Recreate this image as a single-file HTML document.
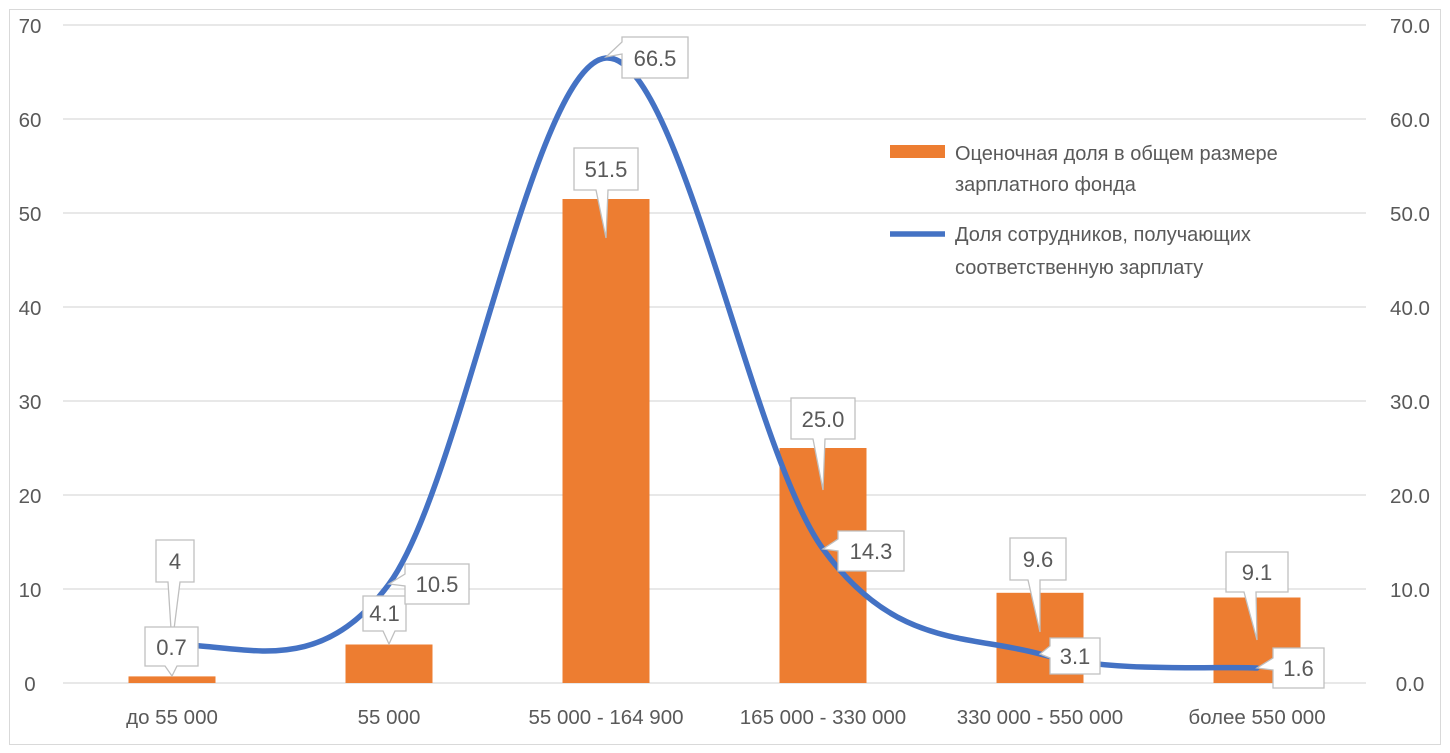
<!DOCTYPE html>
<html><head><meta charset="utf-8"><style>
html,body{margin:0;padding:0;background:#fff}
svg{display:block}
text{font-family:"Liberation Sans",sans-serif;fill:#595959}
</style></head><body>
<svg id="s" width="1450" height="753" viewBox="0 0 1450 753">
<rect x="9.5" y="9.5" width="1431" height="735" fill="#fff" stroke="#d9d9d9"/>
<g stroke="#d9d9d9" stroke-width="1.3">
<line x1="63" x2="1366" y1="683" y2="683"/><line x1="63" x2="1366" y1="589" y2="589"/>
<line x1="63" x2="1366" y1="495" y2="495"/><line x1="63" x2="1366" y1="401" y2="401"/>
<line x1="63" x2="1366" y1="307" y2="307"/><line x1="63" x2="1366" y1="213" y2="213"/>
<line x1="63" x2="1366" y1="119" y2="119"/><line x1="63" x2="1366" y1="25" y2="25"/>
</g>
<g font-size="20.5" text-anchor="middle">
<text x="30" y="691">0</text><text x="30" y="597">10</text><text x="30" y="503">20</text><text x="30" y="409">30</text><text x="30" y="315">40</text><text x="30" y="221">50</text><text x="30" y="127">60</text><text x="30" y="33">70</text>
<text x="1410" y="691">0.0</text><text x="1410" y="597">10.0</text><text x="1410" y="503">20.0</text><text x="1410" y="409">30.0</text><text x="1410" y="315">40.0</text><text x="1410" y="221">50.0</text><text x="1410" y="127">60.0</text><text x="1410" y="33">70.0</text>
<text x="172" y="724">до 55 000</text><text x="389" y="724">55 000</text><text x="606" y="724">55 000 - 164 900</text><text x="823" y="724">165 000 - 330 000</text><text x="1040" y="724">330 000 - 550 000</text><text x="1257" y="724">более 550 000</text>
</g>
<g fill="#ed7d31">
<rect x="128.5" y="676.4" width="87" height="6.6"/><rect x="345.5" y="644.5" width="87" height="38.5"/>
<rect x="562.5" y="199" width="87" height="484"/><rect x="779.5" y="448" width="87" height="235"/>
<rect x="996.5" y="592.8" width="87" height="90.2"/><rect x="1213.5" y="597.5" width="87" height="85.5"/>
</g>
<path id="ln" fill="none" stroke="#4472c4" stroke-width="5.5" stroke-linecap="round"/>
<g id="co" fill="#fff" stroke="#bfbfbf" stroke-width="1.3"></g>
<g font-size="22" text-anchor="middle">
<text x="175" y="569">4</text><text x="171.5" y="655">0.7</text><text x="384.5" y="621">4.1</text><text x="437" y="592">10.5</text>
<text x="655" y="66">66.5</text><text x="606" y="177">51.5</text><text x="823" y="427">25.0</text><text x="871" y="559">14.3</text>
<text x="1038" y="567">9.6</text><text x="1075" y="664">3.1</text><text x="1257" y="580">9.1</text><text x="1298.5" y="676">1.6</text>
</g>
<rect x="890" y="145" width="55" height="13" fill="#ed7d31"/>
<line x1="890" x2="945" y1="234" y2="234" stroke="#4472c4" stroke-width="5.5"/>
<g font-size="20">
<text x="955" y="160">Оценочная доля в общем размере</text><text x="955" y="191">зарплатного фонда</text>
<text x="955" y="241">Доля сотрудников, получающих</text><text x="955" y="274">соответственную зарплату</text>
</g>
</svg>
<script>
var P=[[172,645],[389,584],[606,58],[823,549],[1040,654],[1257,668]];
var d="M"+P[0];
for(var i=0;i<P.length-1;i++){var p0=P[Math.max(i-1,0)],p1=P[i],p2=P[i+1],p3=P[Math.min(i+2,P.length-1)];
var k1=6,k2=6;
var c1=[p1[0]+(p2[0]-p0[0])/k1,p1[1]+(p2[1]-p0[1])/k1],c2=[p2[0]-(p3[0]-p1[0])/k2,p2[1]-(p3[1]-p1[1])/k2];
if(i==0){c1=[p1[0]+70,p1[1]-2];}
d+=" C"+c1+" "+c2+" "+p2;}
document.getElementById("ln").setAttribute("d",d);
function co(x,y,w,h,tx,ty,side,o){var b=12,p;
if(side=="b"){p="M"+x+","+y+"H"+(x+w)+"V"+(y+h)+"H"+(x+o+b)+"L"+tx+","+ty+"L"+(x+o)+","+(y+h)+"H"+x+"Z";}
else{p="M"+x+","+y+"H"+(x+w)+"V"+(y+h)+"H"+x+"V"+(y+o+b)+"L"+tx+","+ty+"L"+x+","+(y+o)+"Z";}
var e=document.createElementNS("http://www.w3.org/2000/svg","path");e.setAttribute("d",p);document.getElementById("co").appendChild(e);}
co(156,540,38,42,172,645,"b",12);
co(145,627,53,39,172,676,"b",20);
co(363,596,43,35,389,644,"b",20);
co(405,564,64,40,389,584,"l",10);
co(622,37,66,41,606,57,"l",5);
co(574,148,64,42,606,238,"b",22);
co(791,398,64,41,823,490,"b",22);
co(838,531,66,40,823,549,"l",8);
co(1010,538,56,42,1040,632,"b",18);
co(1050,638,50,36,1040,654,"l",8);
co(1226,552,62,40,1257,640,"b",18);
co(1273,648,51,40,1257,668,"l",10);
</script>
</body></html>
